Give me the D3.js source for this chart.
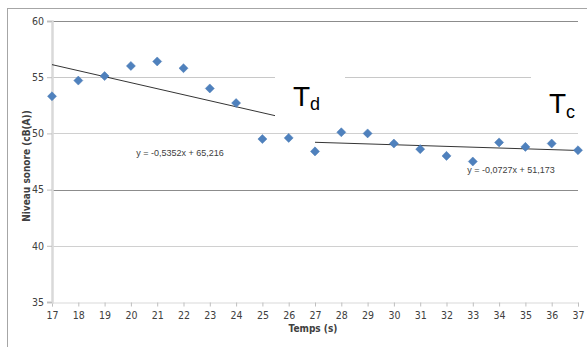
<!DOCTYPE html>
<html><head><meta charset="utf-8">
<script src="https://cdn.jsdelivr.net/npm/d3@7"></script>
<style>
html,body{margin:0;padding:0;background:#fff;}
svg{display:block;}
</style></head>
<body>
<svg id="chart" width="587" height="347"></svg>
<script>
// ---- data ----
const timesD = [17, 18, 19, 20, 21, 22, 23, 24, 25, 26];
const levelsD = [53.3, 54.7, 55.1, 56.0, 56.4, 55.8, 54.0, 52.7, 49.5, 49.6];
const timesC = [27, 28, 29, 30, 31, 32, 33, 34, 35, 36, 37];
const levelsC = [48.4, 50.1, 50.0, 49.1, 48.6, 48.0, 47.5, 49.2, 48.8, 49.1, 48.5];
const xTicks = [17, 18, 19, 20, 21, 22, 23, 24, 25, 26, 27, 28, 29, 30, 31, 32, 33, 34, 35, 36, 37];
const yTicks = [35, 40, 45, 50, 55, 60];
const equationLabels = ["y = -0,5352x + 65,216", "y = -0,0727x + 51,173"];
const xTitle = "Temps (s)";
const yTitle = "Niveau sonore (cB(A))";

const svg = d3.select("#chart");
const W = 587, H = 347;
const m = {left: 52, right: 9, top: 21, bottom: 45};
const x = d3.scaleLinear().domain([17, 37]).range([m.left, W - m.right]);
const y = d3.scaleLinear().domain([35, 60]).range([H - m.bottom, m.top]);
const tickFont = "'Liberation Sans Narrow','Arial Narrow','DejaVu Sans Condensed',sans-serif";

// outer chart border (clipped by window)
svg.append("rect").attr("x", 7.5).attr("y", 8.5).attr("width", 600).attr("height", 400)
  .attr("fill", "#fff").attr("stroke", "#a6a6a6").attr("stroke-width", 1);

// gridlines
const gridColor = {35: "none", 40: "#d0d0d0", 45: "#8c8c8c", 50: "#d0d0d0", 55: "#c8c8c8", 60: "#8c8c8c"};
svg.append("g").selectAll("line").data(yTicks.filter(d => d > 35)).join("line")
  .attr("x1", m.left).attr("x2", W - m.right)
  .attr("y1", d => Math.round(y(d)) + 0.5).attr("y2", d => Math.round(y(d)) + 0.5)
  .attr("stroke", d => gridColor[d]).attr("stroke-width", 1);

// x axis
const xAxis = svg.append("g").attr("transform", `translate(0,${Math.round(y(35)) + 0.5})`)
  .call(d3.axisBottom(x).tickValues(xTicks).tickSize(4).tickPadding(5).tickFormat(d3.format("d")));
xAxis.select(".domain").attr("stroke", "#d9d9d9").attr("stroke-width", 1);
xAxis.selectAll(".tick line").attr("stroke", "#bfbfbf");
xAxis.selectAll("text").attr("fill", "#404040").style("font-family", tickFont).style("font-size", "10.5px");

// y axis
const yAxis = svg.append("g").attr("transform", `translate(${m.left},0)`)
  .call(d3.axisLeft(y).tickValues(yTicks).tickSize(5).tickPadding(3).tickFormat(d3.format("d")));
yAxis.select(".domain").attr("stroke", "#d9d9d9").attr("stroke-width", 2.5);
yAxis.selectAll(".tick line").attr("stroke", "#bfbfbf");
yAxis.selectAll("text").attr("fill", "#404040").style("font-family", tickFont).style("font-size", "10.5px");

// regression helper
function fit(xs, ys) {
  const mx = d3.mean(xs), my = d3.mean(ys);
  const sxy = d3.sum(xs, (v, i) => (v - mx) * (ys[i] - my));
  const sxx = d3.sum(xs, v => (v - mx) * (v - mx));
  const b = sxy / sxx;
  return {b, a: my - b * mx};
}
const line = d3.line().x(d => x(d[0])).y(d => y(d[1]));
[[timesD, levelsD], [timesC, levelsC]].forEach(([xs, ys]) => {
  const f = fit(xs, ys);
  const x0 = d3.min(xs), x1 = d3.max(xs);
  svg.append("path").datum([[x0, f.a + f.b * x0], [x1, f.a + f.b * x1]])
    .attr("d", line).attr("fill", "none").attr("stroke", "#000").attr("stroke-width", 0.8);
});

// markers
const pts = timesD.map((t, i) => [t, levelsD[i]]).concat(timesC.map((t, i) => [t, levelsC[i]]));
svg.append("g").selectAll("path").data(pts).join("path")
  .attr("d", d3.symbol(d3.symbolDiamond2, 52)())
  .attr("transform", d => `translate(${x(d[0])},${y(d[1])})`)
  .attr("fill", "#4f81bd").attr("stroke", "#4a7ab5").attr("stroke-width", 0.5);

// equation labels
const eqFont = "'Liberation Sans Narrow','Arial Narrow',sans-serif";
svg.append("text").attr("x", 180).attr("y", 156).attr("text-anchor", "middle")
  .style("font-family", eqFont).style("font-size", "9px").attr("fill", "#404040").text(equationLabels[0]);
svg.append("text").attr("x", 511).attr("y", 173).attr("text-anchor", "middle")
  .style("font-family", eqFont).style("font-size", "9px").attr("fill", "#404040").text(equationLabels[1]);

// text boxes Td, Tc (white background hides gridline)
svg.append("rect").attr("x", 275).attr("y", 60).attr("width", 70).attr("height", 64).attr("fill", "#fff");
svg.append("rect").attr("x", 531).attr("y", 60).attr("width", 56).attr("height", 64).attr("fill", "#fff");
const tFont = "'Liberation Sans','Arial',sans-serif";
const td = svg.append("text").attr("x", 293).attr("y", 106).style("font-family", tFont).attr("fill", "#000");
td.append("tspan").style("font-size", "28px").text("T");
td.append("tspan").style("font-size", "18px").attr("dy", 4).text("d");
const tc = svg.append("text").attr("x", 549).attr("y", 113).style("font-family", tFont).attr("fill", "#000");
tc.append("tspan").style("font-size", "28px").text("T");
tc.append("tspan").style("font-size", "18px").attr("dy", 5).text("c");

// axis titles
svg.append("text").attr("x", x(27) - 2).attr("y", 332).attr("text-anchor", "middle")
  .style("font-family", tickFont).style("font-size", "10px").style("font-weight", "bold")
  .attr("fill", "#404040").text(xTitle);
svg.append("text").attr("transform", `translate(30,166) rotate(-90)`).attr("text-anchor", "middle")
  .style("font-family", tickFont).style("font-size", "10px").style("font-weight", "bold")
  .attr("fill", "#404040").text(yTitle);
</script>
</body></html>
